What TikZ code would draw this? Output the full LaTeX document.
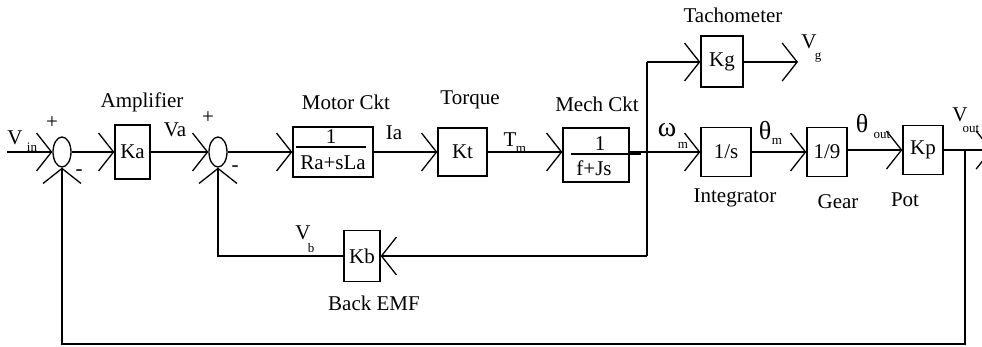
\documentclass[tikz,border=0pt]{standalone}
\usepackage{fontspec}
\setmainfont{Liberation Serif}
\usetikzlibrary{arrows.meta,shapes.geometric}
\newcommand{\lblf}{\fontsize{21}{21}\selectfont}
\newcommand{\sblf}{\fontsize{13}{13}\selectfont}
\newcommand{\gblf}{\fontsize{26}{26}\selectfont}
\newcommand{\wblf}{\fontsize{28}{28}\selectfont}
\tikzset{
  blk/.style={draw, line width=1.3pt, inner sep=0pt, font=\lblf},
  sumj/.style={draw, ellipse, line width=1.3pt, inner sep=0pt, minimum width=18pt, minimum height=30pt},
  sig/.style={line width=1.3pt},
  arr/.style={sig, -{Straight Barb[length=15pt,width=38pt,line width=1.3pt]}},
  txt/.style={inner sep=0pt, font=\lblf},
  subt/.style={inner sep=0pt, font=\sblf},
  grk/.style={inner sep=0pt, font=\gblf},
}
\begin{document}
\begin{tikzpicture}[x=1pt,y=-1pt]
\useasboundingbox (0,0) rectangle (982,346);
% summing junctions
\node[sumj] (s1) at (62,152) {};
\node[sumj] (s2) at (218,152) {};
% blocks
\node[blk, minimum width=35pt, minimum height=54pt] (ka) at (132.5,152) {Ka};
\node[blk, minimum width=80pt, minimum height=50pt] (mot) at (333,152) {};
\node[blk, minimum width=49pt, minimum height=48pt] (kt) at (462.5,152) {Kt};
\node[blk, minimum width=66pt, minimum height=54pt] (mech) at (596,155) {};
\node[blk, minimum width=42pt, minimum height=51pt] (kg) at (722,61.5) {Kg};
\node[blk, minimum width=50pt, minimum height=49pt] (int) at (726,152) {1/s};
\node[blk, minimum width=40pt, minimum height=49pt] (gear) at (827,152) {1/9};
\node[blk, minimum width=40pt, minimum height=49pt] (kp) at (923,150) {Kp};
\node[blk, minimum width=36pt, minimum height=51pt] (kb) at (362,256) {Kb};
% fractions inside blocks
\node[txt] (motn) at (331,137) {1};
\node[txt] (motd) at (333,163) {Ra+sLa};
\draw[sig] ([xshift=4pt,yshift=5pt]mot.west) -- ([xshift=-8pt,yshift=5pt]mot.east);
\node[txt] (mechn) at (600,144) {1};
\node[txt] (mechd) at (594,168) {f+Js};
\draw[sig] ([xshift=9pt,yshift=1pt]mech.west) -- ([xshift=11pt,yshift=1pt]mech.east);
% block titles
\node[txt] (lamp) at (142,102) {Amplifier};
\node[txt] (lmot) at (346,102) {Motor Ckt};
\node[txt] (ltor) at (470,100) {Torque};
\node[txt] (lmech) at (597,104) {Mech Ckt};
\node[txt] (ltach) at (733,15) {Tachometer};
\node[txt] (lint) at (735,198) {Integrator};
\node[txt] (lgear) at (838,202) {Gear};
\node[txt] (lpot) at (905,200) {Pot};
\node[txt] (lbemf) at (374,303) {Back EMF};
% signal labels
\node[txt] (vin) at (15,138) {V};
\node[subt] (vins) at (32,147) {in};
\node[txt] (va) at (175,130) {Va};
\node[txt] (ia) at (394,133) {Ia};
\node[txt] (tm) at (510,140) {T};
\node[subt] (tms) at (521,149) {m};
\node[inner sep=0pt, font=\wblf] (wm) at (667,130) {ω};
\node[subt] (wms) at (683,145) {m};
\node[grk] (thm) at (765,131) {θ};
\node[subt] (thms) at (777,141) {m};
\node[grk] (tho) at (862,124) {θ};
\node[subt] (thos) at (882,135) {out};
\node[txt] (vo) at (960,115) {V};
\node[subt] (vos) at (971,129) {out};
\node[txt] (vg) at (809,42) {V};
\node[subt] (vgs) at (818,58) {g};
\node[txt] (vb) at (303,233) {V};
\node[subt] (vbs) at (311,248) {b};
% signs
\node[txt] (p1) at (52,123) {+};
\node[txt] (m1) at (79,173) {-};
\node[txt] (p2) at (208,118) {+};
\node[txt] (m2) at (235,169) {-};
% coordinates
\coordinate (vinst) at (7,152);
\coordinate (j) at (647,152);
\coordinate (jt) at (647,62);
\coordinate (jb) at (647,256);
\coordinate (vgend) at (798,62);
\coordinate (outend) at (992,150);
\coordinate (tap) at (965,150);
\coordinate (bl) at (62,344);
% connectors
\draw[arr] (vinst) -- (s1.west);
\draw[arr] (s1.east) -- (ka.west);
\draw[arr] (ka.east) -- (s2.west);
\draw[arr] (s2.east) -- (mot.west);
\draw[arr] (mot.east) -- (kt.west);
\draw[arr] (kt.east) -- (kt.east -| mech.west);
\draw[sig] (mech.east |- j) -- (j);
\draw[arr] (j) -- (int.west);
\draw[sig] (jt) -- (jb);
\draw[arr] (jt) -- (kg.west |- jt);
\draw[arr] (kg.east |- jt) -- (vgend);
\draw[arr] (jb) -- (kb.east);
\draw[arr] (kb.west) -| (s2.south);
\draw[arr] (int.east) -- (gear.west);
\draw[arr] (gear.east |- kp.west) -- (kp.west);
\draw[arr] (kp.east) -- (outend);
\draw[arr] (tap) |- (bl) -- (s1.south);
\end{tikzpicture}
\end{document}
